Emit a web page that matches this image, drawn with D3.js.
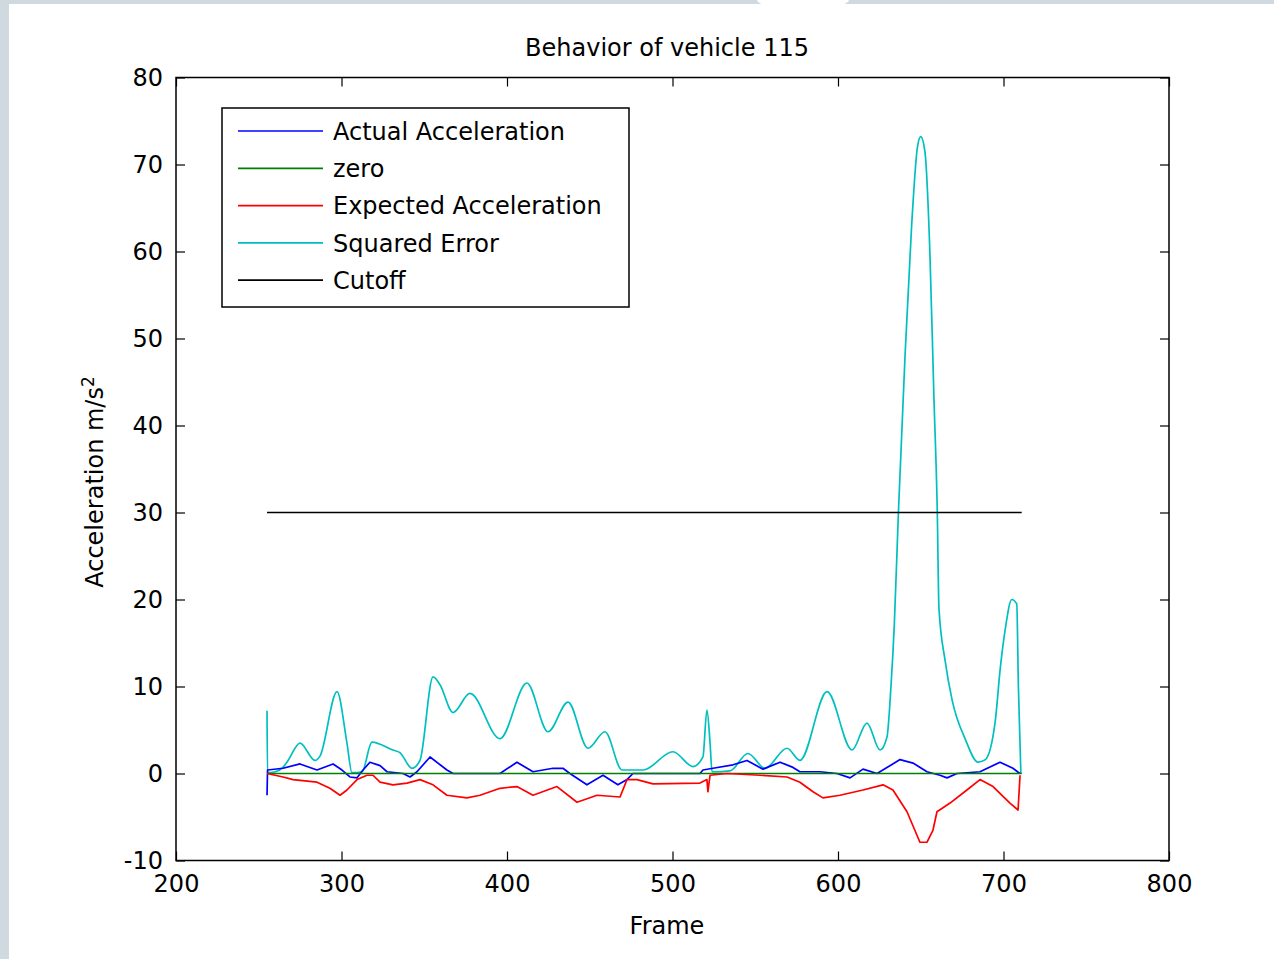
<!DOCTYPE html>
<html>
<head>
<meta charset="utf-8">
<script src="https://cdn.jsdelivr.net/npm/d3@7"></script>
<style>
  html, body { margin: 0; padding: 0; background: #cfd9df; }
  svg { display: block; }
  text { font-family: "DejaVu Sans", sans-serif; }
</style>
</head>
<body>
<svg id="chart" width="1274" height="959"></svg>
<script>
// ---------- data ----------
const title = "Behavior of vehicle 115";
const xLabel = "Frame";
const yLabelMain = "Acceleration m/s";
const yLabelSup = "2";
const xTicks = [200, 300, 400, 500, 600, 700, 800];
const yTicks = [-10, 0, 10, 20, 30, 40, 50, 60, 70, 80];
const seriesNames = ["Actual Acceleration", "zero", "Expected Acceleration", "Squared Error", "Cutoff"];
const seriesColors = ["#0000ff", "#008000", "#ff0000", "#00bfbf", "#000000"];

// [frame, value]
const actualAcceleration = [
  [255,-2.5],[255.3,0.4],[264.7,0.6],[274.9,1.1],[285.2,0.4],[294.9,1.1],[300.3,0.4],[305.1,-0.4],
  [309.4,-0.5],[313,0.4],[317.2,1.3],[323.3,0.9],[327.5,0.2],[337.2,0],[341.4,-0.4],[345.6,0.2],
  [353.5,1.9],[363.7,0.4],[367.4,0],[395.8,0],[406,1.3],[415.7,0.2],[427.8,0.6],[433.8,0.6],
  [438,0],[448.3,-1.3],[458,-0.2],[467,-1.3],[472.5,-0.7],[476.1,0],[516.6,0],[518.4,0.4],
  [524.5,0.6],[536.6,1],[545,1.5],[554.7,0.5],[565,1.3],[572.8,0.7],[577,0.2],[589.1,0.2],
  [599.4,0],[607.3,-0.5],[615.1,0.5],[623.6,0],[637.5,1.6],[645.3,1.2],[653.8,0.2],[661.6,-0.2],
  [665.9,-0.5],[671.9,0],[685.8,0.2],[697.9,1.3],[705.7,0.6],[709.9,0]
];
const zeroLine = [[255,0],[711,0]];
const expectedAcceleration = [
  [255,0],[264.7,-0.4],[270.7,-0.7],[285.2,-1],[293,-1.7],[299.1,-2.5],[303.3,-1.9],[309.4,-0.7],
  [315.4,-0.2],[319,-0.2],[323.3,-1],[331.1,-1.3],[339.6,-1.1],[347.4,-0.7],[355.3,-1.3],[363.7,-2.5],
  [375.8,-2.8],[383.7,-2.5],[395.8,-1.7],[406,-1.5],[415.7,-2.5],[430.2,-1.5],[442.3,-3.3],[454.4,-2.5],
  [468.3,-2.7],[472.5,-0.7],[478.5,-0.7],[488.2,-1.2],[516.6,-1.1],[520.8,-0.7],[521.4,-2.1],[522.7,-0.2],
  [533,0],[552.9,-0.2],[569.2,-0.4],[577,-1],[584.9,-2.1],[590.9,-2.8],[601.2,-2.5],[615.1,-1.9],
  [627.2,-1.3],[633.2,-1.9],[641.7,-4.4],[649.5,-7.9],[653.8,-7.9],[657.4,-6.5],[659.8,-4.4],[667.7,-3.4],
  [677.9,-1.9],[685.8,-0.7],[693.7,-1.5],[703.9,-3.4],[708.8,-4.2],[710,-0.2]
];
const squaredError = [
  [255,7.2],[255.3,0.1],[260,0.2],[264.6,0.7],[267.7,1.5],[274.9,3.5],[284,1.5],[287,2],
  [297.3,9.4],[303.3,3.5],[306.3,0.1],[312.4,0.2],[318.4,3.6],[331,2.7],[335.3,2.4],[342.6,0.6],
  [347.4,1.5],[355.3,11.1],[359.5,10.2],[367.4,7],[377.6,9.2],[395.8,4],[412,10.4],[424.8,4.8],
  [436.9,8.2],[448.9,2.9],[459.2,4.8],[469.5,0.4],[482.2,0.4],[500.3,2.5],[512.4,0.8],[518.4,1.9],
  [520.8,7.3],[522.7,3.5],[523.9,0.2],[534.7,0.3],[545.6,2.3],[555.9,0.6],[569.2,2.9],[577,1.5],
  [593.4,9.4],[608.5,2.7],[617.5,5.8],[625.4,2.7],[629.6,4.2],[632,10],[634,17],[636.5,30],
  [640.5,48],[644.5,63],[648,72],[650,73.2],[652.5,71.5],[655.5,60],[658,43],[660,30],
  [661,19],[664.7,13],[669,8.4],[677,3.9],[684.6,1.3],[689,1.6],[695,6],[698,12],
  [701,16.5],[705,20],[708,19.5],[709,10],[710.5,0]
];
const cutoffLine = [[255,30],[711,30]];

// ---------- layout ----------
const W = 1274, H = 959;
const plot = { left: 176, right: 1169, top: 77.5, bottom: 860.5 };
const FS = 24;

const svg = d3.select("#chart");
svg.append("rect").attr("x", 9).attr("y", 4).attr("width", W - 9).attr("height", H - 4).attr("fill", "#ffffff");
svg.append("ellipse").attr("cx", 803).attr("cy", 0).attr("rx", 46).attr("ry", 9).attr("fill", "#ffffff");

const x = d3.scaleLinear().domain([200, 800]).range([plot.left, plot.right]);
const y = d3.scaleLinear().domain([-10, 80]).range([plot.bottom, plot.top]);
const fmt = d => String(d);

// axes with inward ticks on all four sides
function styleAxis(g) {
  g.select(".domain").remove();
  g.selectAll(".tick line").attr("stroke", "#000").attr("stroke-width", 1.2);
  g.selectAll("text").attr("font-size", FS).attr("fill", "#000").attr("font-family", "DejaVu Sans, sans-serif");
}
svg.append("g").attr("transform", `translate(0,${plot.bottom})`)
  .call(d3.axisBottom(x).tickValues(xTicks).tickSize(-9).tickPadding(14.5).tickFormat(fmt))
  .call(styleAxis);
svg.append("g").attr("transform", `translate(0,${plot.top})`)
  .call(d3.axisTop(x).tickValues(xTicks).tickSize(-9).tickFormat(""))
  .call(styleAxis);
svg.append("g").attr("transform", `translate(${plot.left},0)`)
  .call(d3.axisLeft(y).tickValues(yTicks).tickSize(-9).tickPadding(13).tickFormat(fmt))
  .call(styleAxis);
svg.append("g").attr("transform", `translate(${plot.right},0)`)
  .call(d3.axisRight(y).tickValues(yTicks).tickSize(-9).tickFormat(""))
  .call(styleAxis);

// series
svg.append("defs").append("clipPath").attr("id", "clip")
  .append("rect").attr("x", plot.left).attr("y", plot.top)
  .attr("width", plot.right - plot.left).attr("height", plot.bottom - plot.top);

const linear = d3.line().x(d => x(d[0])).y(d => y(d[1])).curve(d3.curveLinear);
const smooth = d3.line().x(d => x(d[0])).y(d => y(d[1])).curve(d3.curveMonotoneX);

const layers = [
  { data: squaredError, color: seriesColors[3], gen: smooth },
  { data: cutoffLine, color: seriesColors[4], gen: linear },
  { data: actualAcceleration, color: seriesColors[0], gen: linear },
  { data: zeroLine, color: seriesColors[1], gen: linear },
  { data: expectedAcceleration, color: seriesColors[2], gen: linear }
];
const gSeries = svg.append("g").attr("clip-path", "url(#clip)");
layers.forEach(l => {
  gSeries.append("path").datum(l.data).attr("d", l.gen)
    .attr("fill", "none").attr("stroke", l.color).attr("stroke-width", 1.7)
    .attr("stroke-linejoin", "round");
});

// axes box
svg.append("rect").attr("x", plot.left).attr("y", plot.top)
  .attr("width", plot.right - plot.left).attr("height", plot.bottom - plot.top)
  .attr("fill", "none").attr("stroke", "#000").attr("stroke-width", 1.5);

// title and labels
svg.append("text").attr("x", 667).attr("y", 56).attr("text-anchor", "middle")
  .attr("font-size", FS).attr("fill", "#000").text(title);
svg.append("text").attr("x", 667).attr("y", 934).attr("text-anchor", "middle")
  .attr("font-size", FS).attr("fill", "#000").text(xLabel);
const yl = svg.append("text").attr("transform", "translate(103,482) rotate(-90)")
  .attr("text-anchor", "middle").attr("font-size", FS).attr("fill", "#000");
yl.append("tspan").text(yLabelMain);
yl.append("tspan").attr("dy", -9).attr("font-size", 17).text(yLabelSup);

// legend
const leg = { x: 222, y: 108, w: 407, h: 199, rowY0: 131, rowStep: 37.3 };
svg.append("rect").attr("x", leg.x).attr("y", leg.y).attr("width", leg.w).attr("height", leg.h)
  .attr("fill", "#fff").attr("stroke", "#000").attr("stroke-width", 1.5);
const rows = svg.append("g").selectAll("g").data(seriesNames).join("g")
  .attr("transform", (d, i) => `translate(0,${leg.rowY0 + i * leg.rowStep})`);
rows.append("line").attr("x1", 238).attr("x2", 323).attr("y1", 0).attr("y2", 0)
  .attr("stroke", (d, i) => seriesColors[i]).attr("stroke-width", 1.7);
rows.append("text").attr("x", 333).attr("y", 0).attr("dy", "0.36em")
  .attr("font-size", FS).attr("fill", "#000").text(d => d);
</script>
</body>
</html>
